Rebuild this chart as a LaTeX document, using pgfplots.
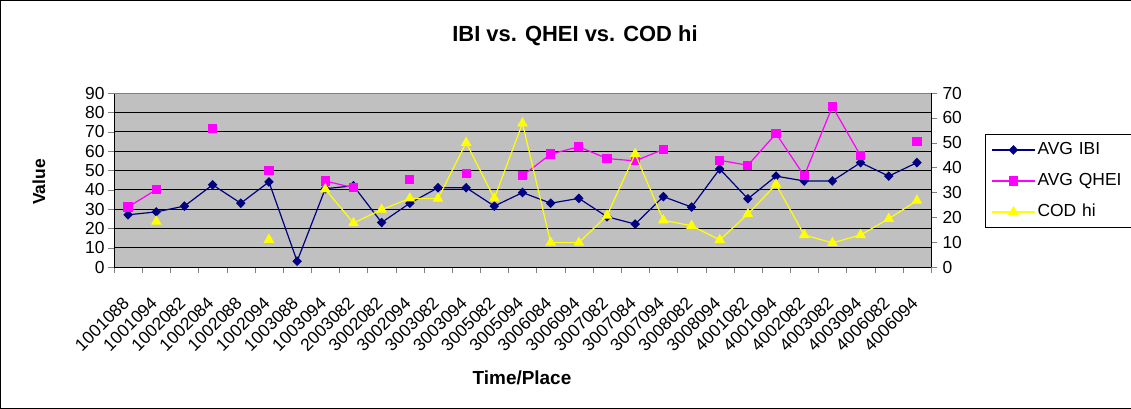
\documentclass[border=0pt]{standalone}
\usepackage{fontspec}
\setmainfont{Liberation Sans}
\usepackage{pgfplots}
\pgfplotsset{compat=1.18}
\usepackage{pgfplotstable}

\definecolor{plotgray}{HTML}{C0C0C0}
\definecolor{ibicol}{HTML}{000080}
\definecolor{qheicol}{HTML}{FF00FF}
\definecolor{codcol}{HTML}{FFFF00}

\pgfplotstableread{
i ibi qhei cod
0 27 31 nan
1 28.5 40 18.3
2 31.5 nan nan
3 42.5 71.5 nan
4 33 nan nan
5 44 50 11
6 3 nan nan
7 40.5 44.5 31.3
8 42 41 17.7
9 23 nan 23.1
10 33 45.3 27.6
11 41 nan 27.5
12 41 48.3 50
13 31.5 nan 27.6
14 38.5 47.2 57.8
15 33 58.4 9.8
16 35.5 62.2 9.8
17 26 56.1 20.7
18 22.2 54.9 45.5
19 36.4 60.8 18.8
20 31 nan 16.6
21 50.7 55.2 10.9
22 35.3 52.6 21.3
23 47 69 33.2
24 44.5 47.2 12.9
25 44.5 83 9.7
26 54 57.6 12.9
27 47 nan 19.4
28 54 65 26.7
}\datatable

\pgfplotsset{
  mybase/.style={
    scale only axis, width=817bp, height=174bp,
    at={(114bp,142bp)}, anchor=south west,
    xmin=-0.5, xmax=28.5,
    tick align=outside, major tick length=6bp,
    ticklabel style={font=\fontsize{17.5}{18}\selectfont},
    /pgf/number format/assume math mode=true,
    unbounded coords=jump,
    ytick distance=10,
  },
  ibistyle/.style={color=ibicol, line width=1.2bp, mark=diamond*, mark size=4bp, mark options={solid, xscale=1.3}},
  qheistyle/.style={color=qheicol, line width=1.2bp, mark=square*, mark size=4bp, mark options={solid}},
  codstyle/.style={color=codcol, line width=1.2bp, mark=triangle*, mark size=5bp, mark options={solid}},
}

\begin{document}
\begin{tikzpicture}
\draw[black, line width=1bp] (0.5bp,1bp) rectangle (1140bp,408bp);

\begin{axis}[mybase,
  ymin=0, ymax=90,
  axis x line*=bottom, axis y line*=left,
  axis line style={black, line width=0.8bp},
  axis background/.style={fill=plotgray},
  ymajorgrids, grid style={black, line width=0.8bp},
  xtick={-0.5,0.5,...,28.5}, xticklabels={},
  extra x ticks={0,1,...,28},
  extra x tick labels={1001088,1001094,1002082,1002084,1002088,1002094,1003088,1003094,2003082,3002082,3002094,3003082,3003094,3005082,3005094,3006084,3006094,3007082,3007084,3007094,3008082,3008094,4001082,4001094,4002082,4003082,4003094,4006082,4006094},
  extra x tick style={major tick length=0pt, xticklabel style={yshift=-33bp, xshift=-2bp, rotate=45, anchor=east, inner sep=0pt}},
]
\draw[color=gray, line width=0.8bp] (rel axis cs:0,1) -- (rel axis cs:1,1);
\addplot[ibistyle] table[x=i, y=ibi] {\datatable};
\addplot[qheistyle] table[x=i, y=qhei] {\datatable};
\end{axis}

\begin{axis}[mybase,
  ymin=0, ymax=70,
  axis y line*=right, axis x line=none,
  axis line style={black, line width=0.8bp},
  yticklabel style={xshift=2bp},
  legend style={at={(1.066,0.764)}, anchor=north west, draw=black, line width=0.8bp, fill=white,
    font=\fontsize{17.5}{18}\selectfont, inner sep=6bp, row sep=12bp,
    nodes={inner sep=2bp, text height=12bp, text depth=3bp, text width=90bp}},
  legend cell align=left,
  legend image code/.code={
    \draw[#1, mark=none] (0bp,0bp) -- (43bp,0bp);
    \draw[#1, only marks] plot coordinates {(21.5bp,0bp)};
  },
]
\addlegendimage{ibistyle}
\addlegendimage{qheistyle}
\addplot[codstyle] table[x=i, y=cod] {\datatable};
\legend{AVG IBI, AVG QHEI, COD hi}
\end{axis}

\node[font=\bfseries\fontsize{22}{24}\selectfont, anchor=base] at (575bp,367bp) {IBI vs. QHEI vs. COD hi};
\node[font=\bfseries\fontsize{19}{20}\selectfont, anchor=base] at (522bp,25bp) {Time/Place};
\node[font=\bfseries\fontsize{17.5}{20}\selectfont, anchor=base, rotate=90] at (45bp,227bp) {Value};

\pgfresetboundingbox
\path (0,0) rectangle (1131bp,409bp);
\end{tikzpicture}
\end{document}
